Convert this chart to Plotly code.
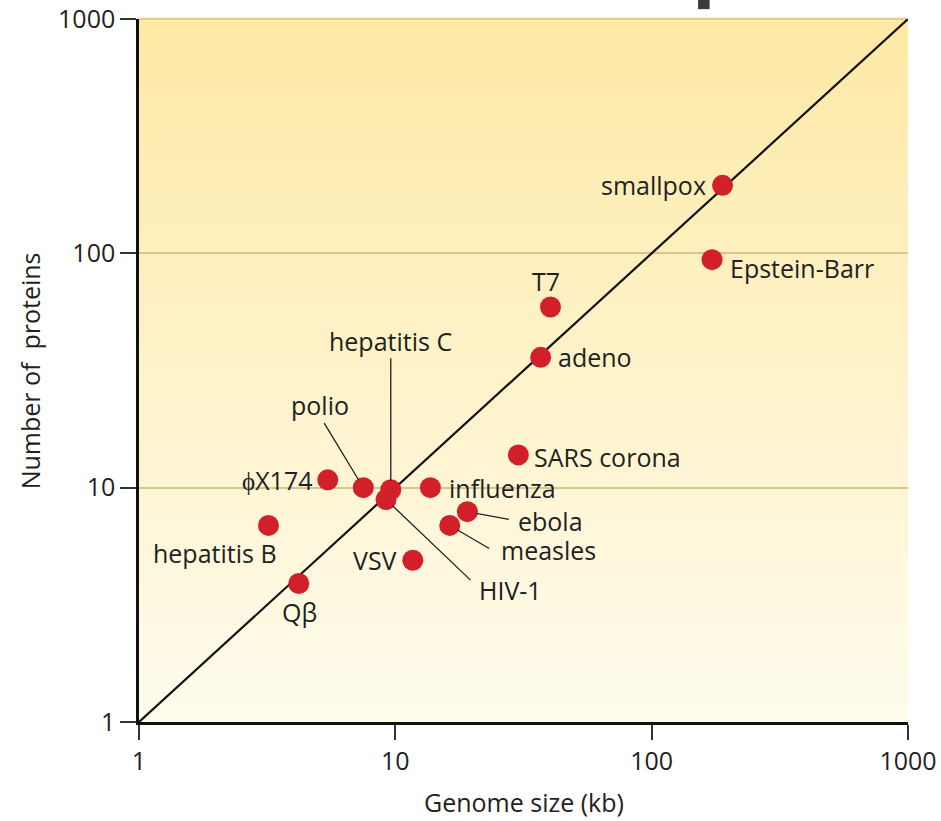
import math
import plotly.graph_objects as go

# ---- data ----
viruses = ["smallpox", "Epstein-Barr", "T7", "adeno", "SARS corona", "influenza",
           "ebola", "measles", "HIV-1", "hepatitis C", "polio", "ϕX174",
           "hepatitis B", "Qβ", "VSV"]
genome_kb = [189, 172, 40.3, 36.9, 30.2, 13.7, 19.1, 16.3, 9.2, 9.6, 7.5, 5.45, 3.2, 4.2, 11.7]
proteins = [195, 94, 59, 36, 13.8, 10, 7.9, 6.9, 8.9, 9.8, 10, 10.8, 6.9, 3.9, 4.9]
ref_line_x = [1, 1000]
ref_line_y = [1, 1000]
tick_vals = [1, 10, 100, 1000]
tick_text = ["1", "10", "100", "1000"]

FONT = "Open Sans"
TXT = "#231f20"
FS = 25

fig = go.Figure()

# diagonal reference line y = x
fig.add_trace(go.Scatter(x=ref_line_x, y=ref_line_y, mode="lines",
                         line=dict(color="#111111", width=2.2),
                         hoverinfo="skip", showlegend=False))
# points
fig.add_trace(go.Scatter(x=genome_kb, y=proteins, mode="markers", text=viruses,
                         marker=dict(color="#d2202a", size=21, line=dict(width=0)),
                         showlegend=False))

# label placement (pixel offsets) : name -> (xanchor, xshift, yshift)
label_pos = {
    "smallpox": ("right", -15, 0),
    "Epstein-Barr": ("left", 16, -8),
    "T7": ("center", -4, 26),
    "adeno": ("left", 15, 0),
    "SARS corona": ("left", 14, -2),
    "influenza": ("left", 17, 0),
    "ebola": ("left", 49, -9),
    "measles": ("left", 49, -25),
    "HIV-1": ("left", 91, -90),
    "hepatitis C": ("center", 0, 149),
    "polio": ("center", -43, 83),
    "ϕX174": ("right", -14, 0),
    "hepatitis B": ("center", -53, -28),
    "Qβ": ("center", 1, -29),
    "VSV": ("right", -14, 0),
}
# leader lines: name -> (ax, ay) pixel offset of tail from point
leaders = {
    "hepatitis C": (0, -133),
    "polio": (-40, -66),
    "ebola": (43, 8),
    "measles": (41, 24),
    "HIV-1": (86, 82),
}

annotations = []
for name, gx, py in zip(viruses, genome_kb, proteins):
    if name in leaders:
        ax, ay = leaders[name]
        annotations.append(dict(x=math.log10(gx), y=math.log10(py),
                                xref="x", yref="y", text="", showarrow=True,
                                arrowhead=0, arrowwidth=1.3, arrowcolor="#231f20",
                                ax=ax, ay=ay, standoff=9))
for name, gx, py in zip(viruses, genome_kb, proteins):
    xa, xs, ys = label_pos[name]
    annotations.append(dict(x=math.log10(gx), y=math.log10(py), xref="x", yref="y",
                            text=name, showarrow=False, xanchor=xa, yanchor="middle",
                            xshift=xs, yshift=ys,
                            font=dict(family=FONT, size=FS, color=TXT)))
# axis titles
annotations.append(dict(text="Genome size (kb)", xref="paper", yref="paper",
                        x=0.5, y=-0.114, xanchor="center", yanchor="middle",
                        showarrow=False, font=dict(family=FONT, size=FS, color=TXT)))
annotations.append(dict(text="Number of  proteins", xref="paper", yref="paper",
                        x=-0.142, y=0.5, xanchor="center", yanchor="middle",
                        textangle=-90, showarrow=False,
                        font=dict(family=FONT, size=FS, color=TXT)))

# background gradient bands (style only)
shapes = []
N = 80
top = (254, 233, 165)
bot = (255, 252, 238)
for i in range(N):
    t = (i + 0.5) / N
    c = tuple(round(bot[k] + (top[k] - bot[k]) * t) for k in range(3))
    shapes.append(dict(type="rect", xref="paper", yref="paper",
                       x0=0, x1=1, y0=i / N, y1=(i + 1) / N + 0.002,
                       fillcolor="rgb(%d,%d,%d)" % c, line=dict(width=0),
                       layer="below"))
# top border line of plot area
shapes.append(dict(type="line", xref="paper", yref="paper", x0=0, x1=1, y0=1, y1=1,
                   line=dict(color="#d8c48e", width=1.5), layer="below"))
# small dark mark at top (artifact in the original)
shapes.append(dict(type="rect", xref="paper", yref="paper",
                   x0=0.727, x1=0.742, y0=1.014, y1=1.03,
                   fillcolor="#3a3a3a", line=dict(width=0)))

fig.update_layout(
    width=941, height=821,
    margin=dict(l=139, r=33, t=19, b=99),
    paper_bgcolor="white", plot_bgcolor="rgba(0,0,0,0)",
    font=dict(family=FONT, color=TXT),
    shapes=shapes, annotations=annotations,
    xaxis=dict(type="log", range=[0, 3], tickvals=tick_vals, ticktext=tick_text,
               automargin=False, showgrid=False, zeroline=False,
               showline=True, linecolor="#111111", linewidth=2.5,
               ticks="outside", ticklen=15, tickwidth=1.5, tickcolor="#333333",
               tickfont=dict(family=FONT, size=FS, color=TXT)),
    yaxis=dict(type="log", range=[0, 3], tickvals=tick_vals, ticktext=tick_text,
               automargin=False,
               showgrid=True, gridcolor="#d8c48e", gridwidth=1.5, zeroline=False,
               showline=True, linecolor="#111111", linewidth=2.5,
               ticks="outside", ticklen=16, tickwidth=1.5, tickcolor="#333333",
               tickfont=dict(family=FONT, size=FS, color=TXT)),
)

fig.write_html("out.html", config={"displayModeBar": False},
               post_script="document.body.style.margin='0';document.body.style.overflow='hidden';")
